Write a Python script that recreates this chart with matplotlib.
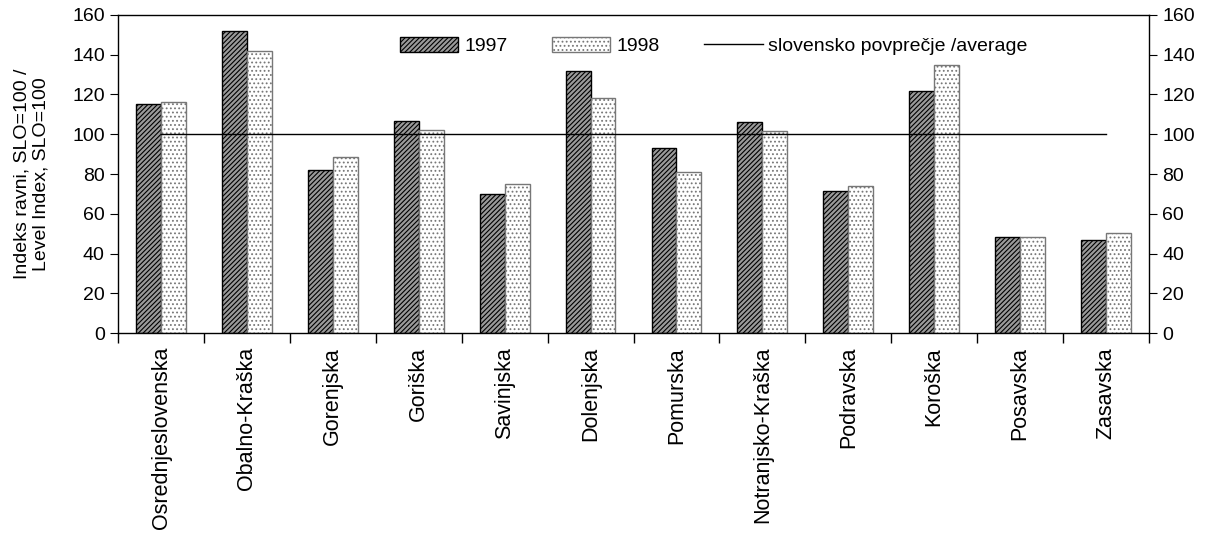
import matplotlib
matplotlib.use("Agg")
import matplotlib.pyplot as plt
import numpy as np

regions = ["Osrednjeslovenska", "Obalno-Kraška", "Gorenjska", "Goriška", "Savinjska",
           "Dolenjska", "Pomurska", "Notranjsko-Kraška", "Podravska", "Koroška",
           "Posavska", "Zasavska"]
v1997 = [115, 152, 82, 106.5, 70, 132, 93, 106, 71.5, 122, 48.5, 47]
v1998 = [116, 142, 88.5, 102, 75, 118, 81, 101.5, 74, 135, 48.5, 50.5]
average = 100
yticks = [0, 20, 40, 60, 80, 100, 120, 140, 160]

plt.rcParams["font.family"] = ["Liberation Sans", "DejaVu Sans"]
plt.rcParams["font.size"] = 14
plt.rcParams["hatch.linewidth"] = 0.8

fig = plt.figure(figsize=(12.12, 5.43), dpi=100)
ax = fig.add_axes([0.0974, 0.3867, 0.8506, 0.5857])

x = np.arange(len(regions))
w = 0.29
b1 = ax.bar(x - w / 2, v1997, w, facecolor="#9a9a9a", edgecolor="black", hatch="///////",
            linewidth=1.0, label="1997")
b2 = ax.bar(x + w / 2, v1998, w, facecolor="white", edgecolor="#777777", hatch="....",
            linewidth=1.0, label="1998")
ln, = ax.plot([x[0], x[-1]], [average, average], color="black", linewidth=1.0,
              label="slovensko povprečje /average")

ax.set_xlim(-0.5, len(regions) - 0.5)
ax.set_ylim(0, 160)
ax.set_yticks(yticks)
ax.set_xticks(x)
ax.set_xticklabels(regions, rotation=90, fontsize=15.5)
ax.set_xticks(np.arange(len(regions) + 1) - 0.5, minor=True)
ax.tick_params(axis="x", which="major", length=0, pad=10)
ax.tick_params(axis="x", which="minor", length=7, direction="out", width=1)
ax.tick_params(axis="y", direction="out", length=6, labelright=True, right=True,
               labelsize=14)
for s in ax.spines.values():
    s.set_linewidth(1.0)
ax.set_ylabel("Indeks ravni, SLO=100 /\nLevel Index, SLO=100", fontsize=14, labelpad=16)

ax.legend(handles=[b1, b2, ln], loc="upper center", bbox_to_anchor=(0.578, 0.985),
          ncol=3, frameon=False, handlelength=3.0, handleheight=0.8,
          columnspacing=2.3, handletextpad=0.3, fontsize=14)

fig.savefig("out.png", dpi=100)
